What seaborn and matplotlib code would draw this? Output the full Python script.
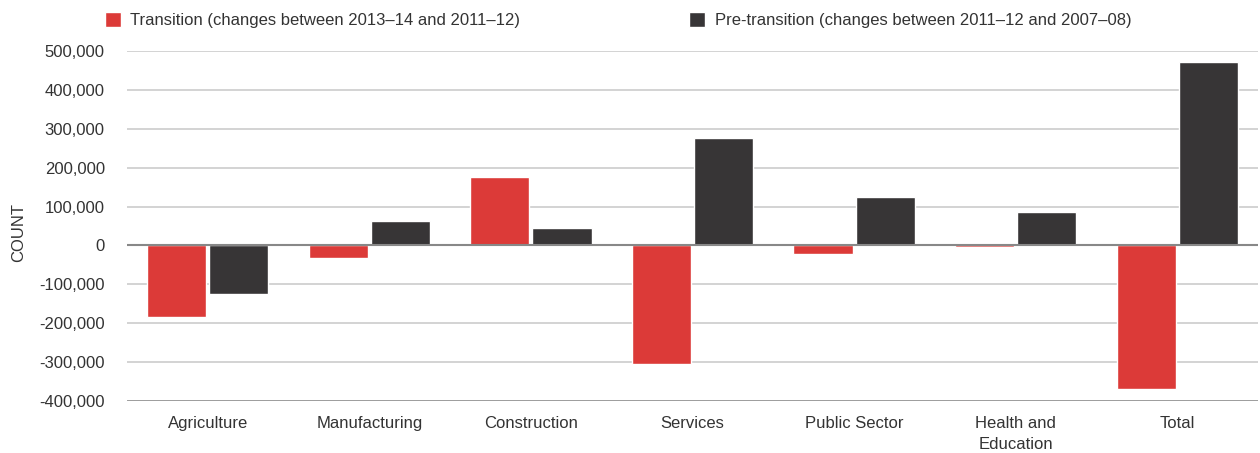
import pandas as pd
import numpy as np
import matplotlib.pyplot as plt
import seaborn as sns
from matplotlib.ticker import FuncFormatter

# Data
sectors = ['Agriculture', 'Manufacturing', 'Construction', 'Services',
           'Public Sector', 'Health and\nEducation', 'Total']
transition = [-183000, -33000, 175000, -306000, -23000, -4000, -368000]
pre_transition = [-126000, 63000, 45000, 277000, 125000, 87000, 472000]

series_names = ['Transition (changes between 2013\u201314 and 2011\u201312)',
                'Pre-transition (changes between 2011\u201312 and 2007\u201308)']
colors = ['#DC3A38', '#373536']

df = pd.DataFrame({
    'sector': sectors * 2,
    'value': transition + pre_transition,
    'period': [series_names[0]] * len(sectors) + [series_names[1]] * len(sectors),
})

sns.set_style("white")
plt.rcParams['font.family'] = ['Liberation Sans', 'DejaVu Sans']
text_color = '#333333'

fig = plt.figure(figsize=(12.6, 4.53), dpi=100)
ax = fig.add_axes([127 / 1260, 1 - 401 / 453, 1131 / 1260, 350 / 453])

sns.barplot(data=df, x='sector', y='value', hue='period', palette=colors,
            width=0.77, gap=0.05, saturation=1, ax=ax, zorder=3)

ax.set_ylim(-400000, 500000)
ax.set_yticks(np.arange(-400000, 500001, 100000))
ax.yaxis.set_major_formatter(FuncFormatter(lambda v, p: f'{int(v):,}'))
ax.grid(axis='y', color='#cccccc', linewidth=1.2, zorder=0)
ax.axhline(0, color='#888888', linewidth=1.5, zorder=4)
ax.axhline(-400000, color='#999999', linewidth=2, zorder=4)

for s in ax.spines.values():
    s.set_visible(False)

ax.tick_params(axis='both', length=0, labelsize=12, colors=text_color)
ax.tick_params(axis='y', pad=16)
ax.tick_params(axis='x', pad=11)
for lbl in ax.get_xticklabels():
    lbl.set_linespacing(1.45)
ax.set_xlabel('')
ax.set_ylabel('COUNT', fontsize=12, color=text_color)
ax.yaxis.set_label_coords(-101 / 1131, 0.48)

handles, labels = ax.get_legend_handles_labels()
ax.legend_.remove()
fig.legend(handles, labels, loc='upper left', bbox_to_anchor=(93 / 1260, 1.0),
           ncol=2, frameon=False, fontsize=12, handlelength=1.0, handleheight=1.0,
           handletextpad=0.55, columnspacing=10.1, labelcolor=text_color,
           borderaxespad=0.3)

fig.savefig('out.png', dpi=100)
